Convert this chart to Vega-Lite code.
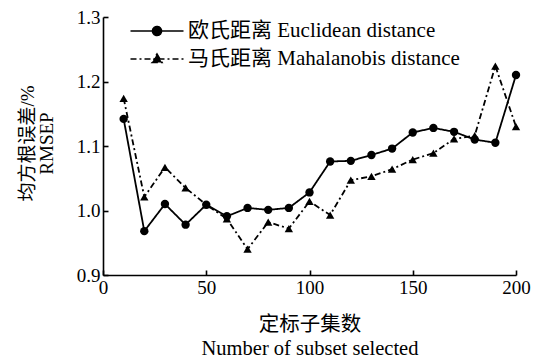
{
  "$schema": "https://vega.github.io/schema/vega-lite/v6.json",
  "width": 413,
  "height": 258,
  "autosize": {"type": "none"},
  "padding": {"left": 103, "top": 17, "right": 32, "bottom": 86},
  "background": "white",
  "config": {
    "font": "Times New Roman, Liberation Serif, Noto Sans CJK SC, serif",
    "view": {"stroke": null},
    "axis": {
      "grid": false,
      "domainColor": "black",
      "domainWidth": 1.6,
      "tickColor": "black",
      "tickWidth": 1.6,
      "tickSize": -5,
      "labelColor": "black",
      "labelFontSize": 19,
      "titleColor": "black",
      "titleFontWeight": "normal"
    }
  },
  "data": {
    "values": [
      {"n": 10, "rmsep": 1.142, "method": "欧氏距离 Euclidean distance"},
      {"n": 20, "rmsep": 0.968, "method": "欧氏距离 Euclidean distance"},
      {"n": 30, "rmsep": 1.010, "method": "欧氏距离 Euclidean distance"},
      {"n": 40, "rmsep": 0.978, "method": "欧氏距离 Euclidean distance"},
      {"n": 50, "rmsep": 1.009, "method": "欧氏距离 Euclidean distance"},
      {"n": 60, "rmsep": 0.991, "method": "欧氏距离 Euclidean distance"},
      {"n": 70, "rmsep": 1.004, "method": "欧氏距离 Euclidean distance"},
      {"n": 80, "rmsep": 1.001, "method": "欧氏距离 Euclidean distance"},
      {"n": 90, "rmsep": 1.004, "method": "欧氏距离 Euclidean distance"},
      {"n": 100, "rmsep": 1.028, "method": "欧氏距离 Euclidean distance"},
      {"n": 110, "rmsep": 1.076, "method": "欧氏距离 Euclidean distance"},
      {"n": 120, "rmsep": 1.077, "method": "欧氏距离 Euclidean distance"},
      {"n": 130, "rmsep": 1.086, "method": "欧氏距离 Euclidean distance"},
      {"n": 140, "rmsep": 1.096, "method": "欧氏距离 Euclidean distance"},
      {"n": 150, "rmsep": 1.121, "method": "欧氏距离 Euclidean distance"},
      {"n": 160, "rmsep": 1.128, "method": "欧氏距离 Euclidean distance"},
      {"n": 170, "rmsep": 1.122, "method": "欧氏距离 Euclidean distance"},
      {"n": 180, "rmsep": 1.110, "method": "欧氏距离 Euclidean distance"},
      {"n": 190, "rmsep": 1.105, "method": "欧氏距离 Euclidean distance"},
      {"n": 200, "rmsep": 1.210, "method": "欧氏距离 Euclidean distance"},
      {"n": 10, "rmsep": 1.174, "method": "马氏距离 Mahalanobis distance"},
      {"n": 20, "rmsep": 1.021, "method": "马氏距离 Mahalanobis distance"},
      {"n": 30, "rmsep": 1.067, "method": "马氏距离 Mahalanobis distance"},
      {"n": 40, "rmsep": 1.035, "method": "马氏距离 Mahalanobis distance"},
      {"n": 50, "rmsep": 1.009, "method": "马氏距离 Mahalanobis distance"},
      {"n": 60, "rmsep": 0.987, "method": "马氏距离 Mahalanobis distance"},
      {"n": 70, "rmsep": 0.940, "method": "马氏距离 Mahalanobis distance"},
      {"n": 80, "rmsep": 0.982, "method": "马氏距离 Mahalanobis distance"},
      {"n": 90, "rmsep": 0.972, "method": "马氏距离 Mahalanobis distance"},
      {"n": 100, "rmsep": 1.014, "method": "马氏距离 Mahalanobis distance"},
      {"n": 110, "rmsep": 0.993, "method": "马氏距离 Mahalanobis distance"},
      {"n": 120, "rmsep": 1.047, "method": "马氏距离 Mahalanobis distance"},
      {"n": 130, "rmsep": 1.053, "method": "马氏距离 Mahalanobis distance"},
      {"n": 140, "rmsep": 1.064, "method": "马氏距离 Mahalanobis distance"},
      {"n": 150, "rmsep": 1.079, "method": "马氏距离 Mahalanobis distance"},
      {"n": 160, "rmsep": 1.089, "method": "马氏距离 Mahalanobis distance"},
      {"n": 170, "rmsep": 1.111, "method": "马氏距离 Mahalanobis distance"},
      {"n": 180, "rmsep": 1.116, "method": "马氏距离 Mahalanobis distance"},
      {"n": 190, "rmsep": 1.224, "method": "马氏距离 Mahalanobis distance"},
      {"n": 200, "rmsep": 1.130, "method": "马氏距离 Mahalanobis distance"}
    ]
  },
  "encoding": {
    "x": {
      "field": "n",
      "type": "quantitative",
      "scale": {"domain": [0, 200], "nice": false},
      "axis": {
        "values": [0, 50, 100, 150, 200],
        "title": ["定标子集数", "Number of subset selected"],
        "titleFont": "Times New Roman, Liberation Serif, Noto Sans CJK SC, serif",
        "titleFontSize": 20.5,
        "titlePadding": 17,
        "titleLineHeight": 24,
        "labelFont": "Times New Roman, Liberation Serif, Noto Sans CJK SC, serif",
        "labelPadding": 8,
        "labelFlush": false
      }
    },
    "y": {
      "field": "rmsep",
      "type": "quantitative",
      "scale": {"domain": [0.9, 1.3], "nice": false, "zero": false},
      "axis": {
        "values": [0.9, 1.0, 1.1, 1.2, 1.3],
        "format": ".1f",
        "title": ["均方根误差/%", "RMSEP"],
        "titleFont": "Times New Roman, Liberation Serif, Noto Sans CJK SC, serif",
        "titleFontSize": 19,
        "titlePadding": 20,
        "titleLineHeight": 19,
        "titleY": 126,
        "labelFont": "Times New Roman, Liberation Serif, Noto Sans CJK SC, serif",
        "labelPadding": 8,
        "labelFlush": false
      }
    }
  },
  "layer": [
    {
      "mark": {"type": "line", "color": "black", "strokeWidth": 1.8},
      "encoding": {
        "strokeDash": {
          "field": "method",
          "type": "nominal",
          "scale": {
            "domain": ["欧氏距离 Euclidean distance", "马氏距离 Mahalanobis distance"],
            "range": [[1, 0], [6, 3, 2, 3]]
          },
          "legend": {
            "title": null,
            "orient": "none",
            "legendX": 43,
            "legendY": 3,
            "labelFont": "Times New Roman, Liberation Serif, Noto Sans CJK SC, serif",
            "labelFontSize": 21,
            "labelColor": "black",
            "labelLimit": 400,
            "labelOffset": 20,
            "rowPadding": 7,
            "symbolSize": 400,
            "symbolStrokeWidth": 1.6,
            "symbolStrokeColor": "black",
            "symbolFillColor": "black",
            "encode": {
              "symbols": {
                "update": {
                  "shape": {
                    "signal": "datum.value === '欧氏距离 Euclidean distance' ? 'M-2.65,0H2.65M-0.45,0A0.45,0.45 0 1,0 0.45,0A0.45,0.45 0 1,0 -0.45,0Z' : 'M-2.65,0H2.65M0,-0.5L0.5,0.35L-0.5,0.35Z'"
                  }
                }
              }
            }
          }
        }
      }
    },
    {
      "transform": [{"filter": "datum.method === '欧氏距离 Euclidean distance'"}],
      "mark": {"type": "point", "shape": "circle", "filled": true, "color": "black", "opacity": 1, "size": 70}
    },
    {
      "transform": [{"filter": "datum.method === '马氏距离 Mahalanobis distance'"}],
      "mark": {"type": "point", "shape": "triangle-up", "filled": true, "color": "black", "opacity": 1, "size": 70}
    }
  ]
}
